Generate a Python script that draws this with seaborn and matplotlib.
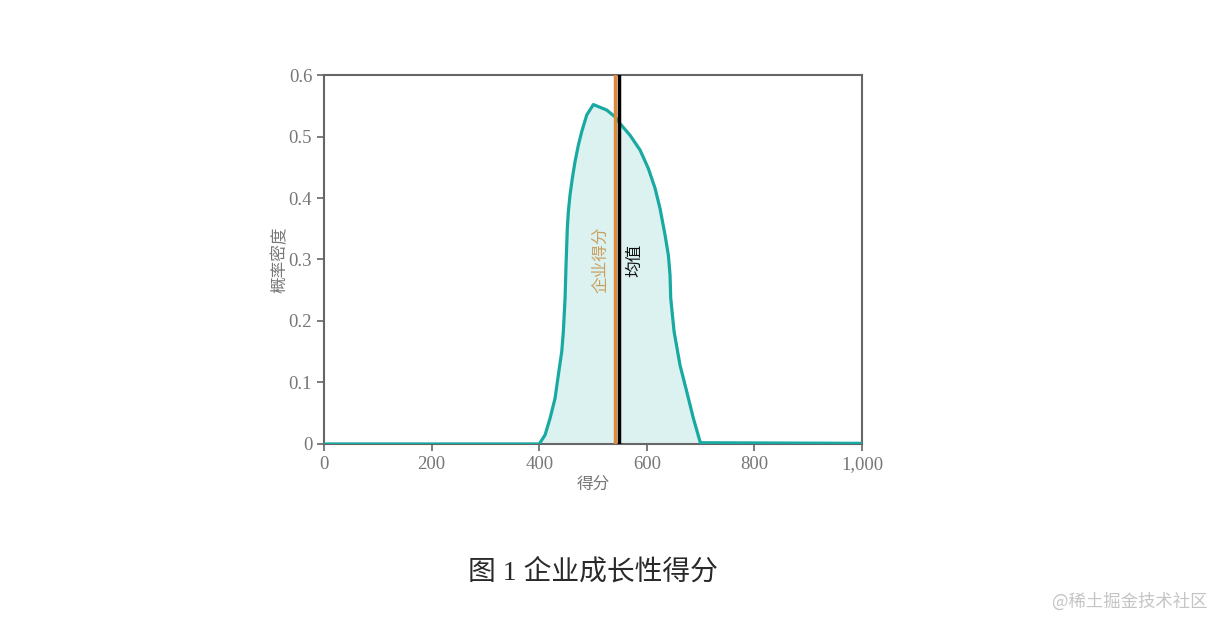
import numpy as np
import pandas as pd
import matplotlib.pyplot as plt
import seaborn as sns
from matplotlib.ticker import FuncFormatter

# density curve
score = [0, 400, 410.8, 420.1, 429.4, 435.5, 441.8, 444.8, 448.0, 449.8, 451.1,
         452.2, 454.1, 457.2, 461.5, 466.5, 472.7, 479.0, 488.3, 500.6,
         525.5, 540.9, 550.2, 568.8, 587.4, 602.8, 615.2, 624.5, 633.8,
         640.0, 643.1, 644.4, 650.6, 661.7, 674.2, 686.4, 699.5, 702, 1000]
density = [0, 0, 0.0146, 0.0418, 0.0743, 0.1122, 0.150, 0.1826, 0.2369, 0.291, 0.3236,
           0.3507, 0.3777, 0.4049, 0.432, 0.459, 0.486, 0.508, 0.535, 0.552,
           0.543, 0.532, 0.521, 0.502, 0.478, 0.448, 0.416, 0.383, 0.340,
           0.307, 0.275, 0.237, 0.183, 0.128, 0.085, 0.042, 0.002, 0.002, 0.001]
company_score = 541
mean_score = 548

x_ticks = [0, 200, 400, 600, 800, 1000]
y_ticks = [0, 0.1, 0.2, 0.3, 0.4, 0.5, 0.6]

df = pd.DataFrame({'得分': score, '概率密度': density})

sns.set_style('white')
plt.rcParams['font.family'] = ['Liberation Serif', 'Noto Sans CJK SC', 'DejaVu Sans']

fig = plt.figure(figsize=(12.15, 6.18), dpi=100)
ax = fig.add_axes([0.2667, 0.2816, 0.4428, 0.597])

teal = '#18aaa2'
gray = '#777777'

ax.fill_between(df['得分'], df['概率密度'], color='#dcf2f0', zorder=1)
sns.lineplot(data=df, x='得分', y='概率密度', color=teal, linewidth=2.3, ax=ax, zorder=3)

ax.axvline(company_score, color='#e0873a', linewidth=2.5, zorder=4)
ax.axvline(mean_score, color='black', linewidth=2.5, zorder=5)

ax.text(company_score - 10, 0.299, '企业得分', rotation=90, color='#c9a060',
        fontsize=12, ha='right', va='center', family=['Noto Sans CJK SC'])
ax.text(mean_score + 14, 0.299, '均值', rotation=90, color='#111111',
        fontsize=12, ha='left', va='center', family=['Noto Sans CJK SC'])

ax.set_xlim(0, 1000)
ax.set_ylim(0, 0.6)
ax.set_xticks(x_ticks)
ax.set_yticks(y_ticks)
ax.xaxis.set_major_formatter(FuncFormatter(lambda v, p: f'{int(v):,}'))
ax.yaxis.set_major_formatter(FuncFormatter(lambda v, p: '0' if v == 0 else f'{v:.1f}'))
ax.tick_params(axis='both', direction='out', length=5, width=1.2, color='#666666',
               labelcolor=gray, labelsize=13.5, bottom=True, left=True)

for s in ax.spines.values():
    s.set_color('#666666')
    s.set_linewidth(1.5)

ax.set_xlabel('得分', color=gray, fontsize=12, labelpad=2, family=['Noto Sans CJK SC'])
ax.set_ylabel('概率密度', color=gray, fontsize=12, labelpad=0, family=['Noto Sans CJK SC'])

fig.text(0.488, 0.074, '图 1 企业成长性得分', ha='center', va='center', fontsize=20,
         color='#2a2a2a', family=['Liberation Serif', 'Noto Sans CJK SC'])
fig.text(0.994, 0.027, '@稀土掘金技术社区', ha='right', va='center', fontsize=12.5,
         color='#c4c4c4', family=['Noto Sans CJK SC'])

fig.savefig('out.png', dpi=100)
